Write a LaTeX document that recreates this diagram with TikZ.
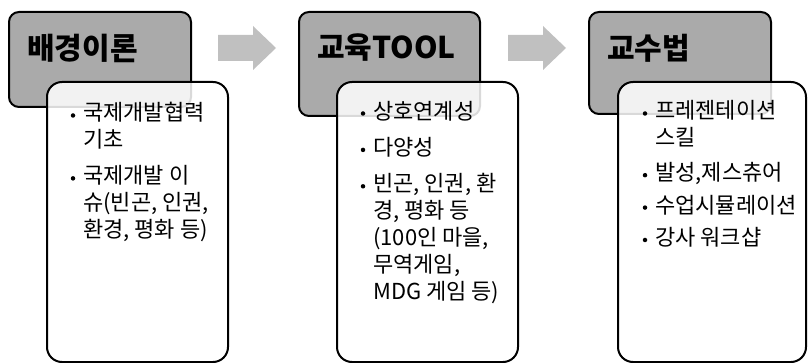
\documentclass[tikz,border=0pt]{standalone}
\usepackage{fontspec}
\newfontfamily\krfont{Noto Sans CJK KR}
\usetikzlibrary{positioning}
\definecolor{boxgray}{RGB}{170,170,170}
\definecolor{arrowgray}{RGB}{192,192,192}

\begin{document}
\begin{tikzpicture}[x=1pt,y=-1pt,
            headbox/.style={draw,line width=2pt,fill=boxgray,rounded corners=10pt},
            listbox/.style={draw,line width=2pt,fill=white,fill opacity=0.85,rounded corners=15pt},
            title/.style={anchor=west,inner sep=0pt,font=\krfont\bfseries\fontsize{30}{36}\selectfont},
            entry/.style={anchor=north west,inner sep=0pt,align=left,
              font=\krfont\fontsize{22}{27}\selectfont,
              execute at begin node=\strut,execute at end node=\strut},
            dot/.style={circle,fill,inner sep=0pt,minimum size=4.5pt}]
            \useasboundingbox (0,0) rectangle (808,363);
            % block arrows
            \foreach \dx in {0,290}
              \fill[arrowgray] (218+\dx,35) -- (253+\dx,35) -- (253+\dx,26) -- (276+\dx,48)
                -- (253+\dx,70) -- (253+\dx,61) -- (218+\dx,61) -- cycle;
            % head boxes
            \draw[headbox] (9,12) rectangle (191,107);
            \draw[headbox] (299,12) rectangle (480,116);
            \draw[headbox] (589,12) rectangle (771,114);
            \node[title] (g1) at (27,48) {배경이론};
            \node[title] (g2) at (317,48) {교육TOOL};
            \node[title] (g3) at (607,48) {교수법};
            % list boxes
            \draw[listbox] (47,82) rectangle (228,362);
            \draw[listbox] (337,82) rectangle (518,362);
            \draw[listbox] (618,82) rectangle (806,362);
            % box 1
            \node[entry] (t11) at (83,102) {국제개발협력\\기초};
            \node[entry,below=9pt of t11.south west,anchor=north west] (t12) {국제개발 이\\슈(빈곤, 인권,\\환경, 평화 등)};
            % box 2
            \node[entry] (t21) at (373,100) {상호연계성};
            \node[entry,below=9pt of t21.south west,anchor=north west] (t22) {다양성};
            \node[entry,below=9pt of t22.south west,anchor=north west] (t23) {빈곤, 인권, 환\\경, 평화 등\\(100인 마을,\\무역게임,\\MDG 게임 등)};
            % box 3
            \node[entry] (t31) at (655,100) {프레젠테이션\\스킬};
            \node[entry,below=8pt of t31.south west,anchor=north west] (t32) {발성,제스츄어};
            \node[entry,below=5pt of t32.south west,anchor=north west] (t33) {수업시뮬레이션};
            \node[entry,below=5pt of t33.south west,anchor=north west] (t34) {강사 워크샵};
            % bullets
            \foreach \t in {t11,t12,t21,t22,t23,t31,t32,t33,t34}
              \node[dot] at ([xshift=-10pt,yshift=-13.5pt]\t.north west) {};
        \end{tikzpicture}
\end{document}
